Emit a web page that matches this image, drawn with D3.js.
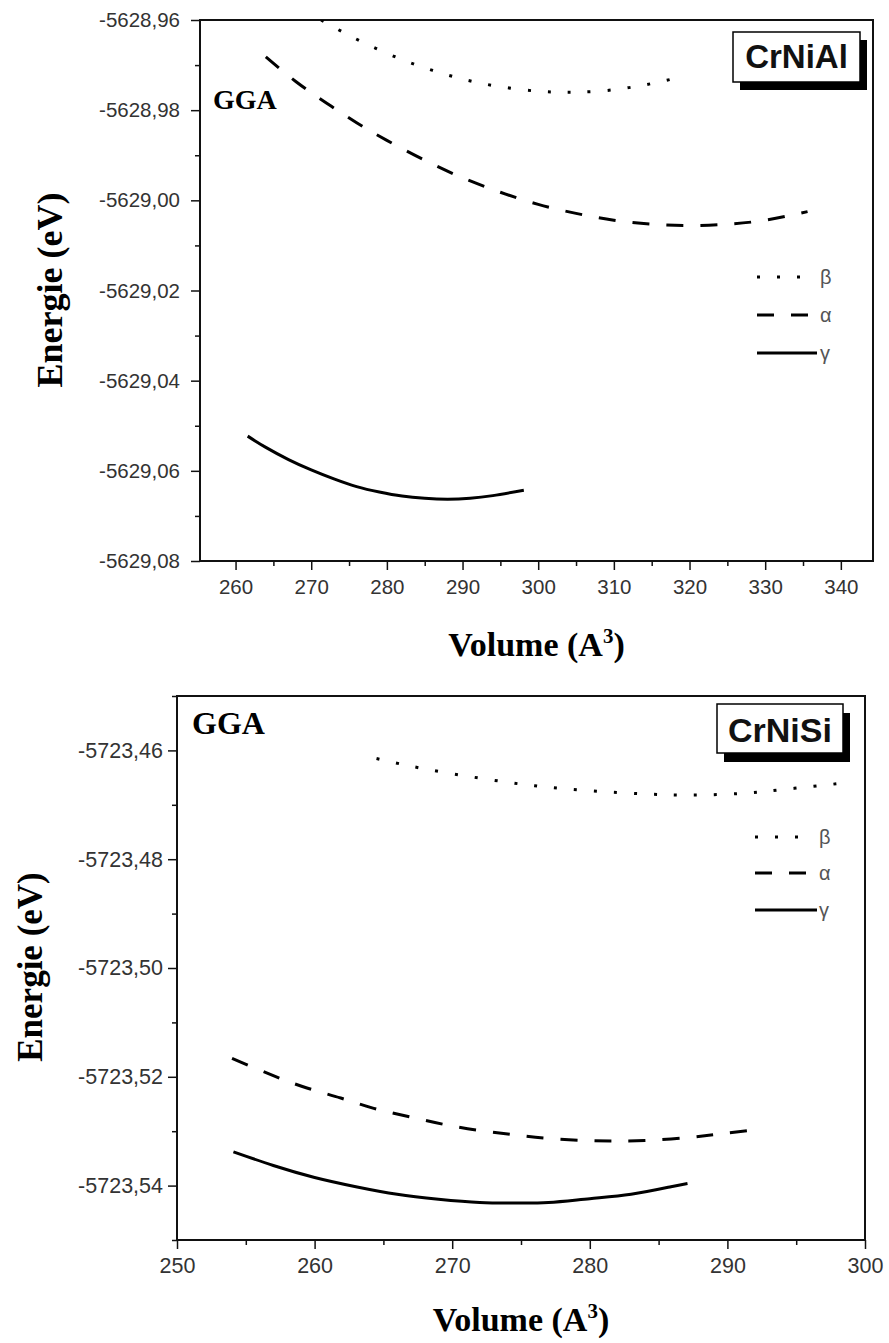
<!DOCTYPE html>
<html>
<head>
<meta charset="utf-8">
<script src="https://cdn.jsdelivr.net/npm/d3@7"></script>
<style>
  body { margin: 0; background: #fff; }
  svg { display: block; }
  .tick text { font-family: "Liberation Sans", Arial, sans-serif; fill: #333; }
  .title { font-family: "Liberation Serif", "Times New Roman", serif; font-weight: bold; fill: #000; }
  .legend { font-family: "Liberation Sans", Arial, sans-serif; fill: #555; }
  .box { font-family: "Liberation Sans", Arial, sans-serif; font-weight: bold; fill: #111; }
</style>
</head>
<body>
<svg id="chart" width="889" height="1343"></svg>
<script>
// ---- CrNiAl (top) ----
const alBetaV  = [271.3, 275, 280, 285, 290, 295, 300, 304, 308, 312, 315, 317.7];
const alBetaE  = [-5628.9600, -5628.9634, -5628.9674, -5628.9706, -5628.9731, -5628.9748,
                  -5628.9758, -5628.9760, -5628.9758, -5628.9750, -5628.9741, -5628.9731];
const alAlphaV = [264, 268, 272, 276, 280, 285, 290, 295, 300, 305, 310, 315, 320, 325, 330, 335.6];
const alAlphaE = [-5628.9682, -5628.9737, -5628.9784, -5628.9828, -5628.9867, -5628.9911,
                  -5628.9950, -5628.9982, -5629.0009, -5629.0029, -5629.0044, -5629.0053,
                  -5629.0056, -5629.0053, -5629.0044, -5629.0025];
const alGammaV = [261.6, 264, 267, 270, 273, 276, 279, 282, 285, 288, 291, 294, 298.1];
const alGammaE = [-5629.0523, -5629.0548, -5629.0575, -5629.0598, -5629.0618, -5629.0635,
                  -5629.0647, -5629.0656, -5629.0661, -5629.0663, -5629.0661, -5629.0655, -5629.0643];
const alXTicks = [260, 270, 280, 290, 300, 310, 320, 330, 340];
const alYTicks = [-5629.08, -5629.06, -5629.04, -5629.02, -5629.00, -5628.98, -5628.96];

// ---- CrNiSi (bottom) ----
const siBetaV  = [264.5, 268, 272, 276, 280, 284, 287.5, 291, 294, 297, 298.7];
const siBetaE  = [-5723.4615, -5723.4634, -5723.4651, -5723.4665, -5723.4674, -5723.4680,
                  -5723.4682, -5723.4679, -5723.4672, -5723.4664, -5723.4659];
const siAlphaV = [254.0, 257, 259.5, 261.9, 264.3, 266.8, 269.3, 271.8, 274.3, 276.8, 279.5,
                  281.5, 284, 287, 289.5, 292.2];
const siAlphaE = [-5723.5166, -5723.5198, -5723.5221, -5723.5239, -5723.5258, -5723.5273,
                  -5723.5287, -5723.5298, -5723.5306, -5723.5313, -5723.5317, -5723.5318,
                  -5723.5317, -5723.5312, -5723.5305, -5723.5297];
const siGammaV = [254.1, 257, 260, 263, 266, 269, 272, 274.5, 277, 280, 283, 285.9, 287.1];
const siGammaE = [-5723.5338, -5723.5363, -5723.5385, -5723.5402, -5723.5416, -5723.5425,
                  -5723.5431, -5723.5432, -5723.5431, -5723.5424, -5723.5416, -5723.5402, -5723.5396];
const siXTicks = [250, 260, 270, 280, 290, 300];
const siYTicks = [-5723.54, -5723.52, -5723.50, -5723.48, -5723.46];

const legendNames = ["β", "α", "γ"];
const phaseDash   = ["3,17", "17,17", null];   // β dotted, α dashed, γ solid

const svg = d3.select("#chart");
const fmt2 = d3.formatLocale({ decimal: ",", thousands: "", grouping: [3],
                               currency: ["", ""], minus: "-" }).format(".2f");

drawPanel({
  id: "al", name: "CrNiAl",
  left: 200, right: 873, top: 20, bottom: 561,
  xDomain: [255.3, 344.25], yDomain: [-5629.08, -5628.96],
  xTicks: alXTicks, yTicks: alYTicks, xMinorStep: 5, yMinorStep: 0.01,
  tickFont: 20.5, yPad: 11,
  series: [[alBetaV, alBetaE], [alAlphaV, alAlphaE], [alGammaV, alGammaE]],
  gga: { x: 213, y: 109, size: 28 },
  yTitle: { x: 62, y: 290, size: 36 },
  xTitle: { x: 536.5, y: 656, size: 34 },
  box: { x: 733, y: 32, w: 127, h: 50, dx: 7, dy: 8, size: 33, base: 68 },
  legend: { x0: 757, ends: [803, 808, 817], rows: [277, 315, 353], tx: 820 }
});

drawPanel({
  id: "si", name: "CrNiSi",
  left: 177, right: 865, top: 696, bottom: 1240,
  xDomain: [250, 300], yDomain: [-5723.55, -5723.45],
  xTicks: siXTicks, yTicks: siYTicks, xMinorStep: 5, yMinorStep: 0.01,
  tickFont: 21.5, yPad: 5,
  series: [[siBetaV, siBetaE], [siAlphaV, siAlphaE], [siGammaV, siGammaE]],
  gga: { x: 192, y: 734, size: 32 },
  yTitle: { x: 42, y: 967, size: 35 },
  xTitle: { x: 521, y: 1331, size: 34 },
  box: { x: 717, y: 704, w: 126, h: 49, dx: 7, dy: 9, size: 34, base: 742 },
  legend: { x0: 755, ends: [801, 808, 817], rows: [837, 873, 910], tx: 819 }
});

function drawPanel(c) {
  const x = d3.scaleLinear().domain(c.xDomain).range([c.left, c.right]);
  const y = d3.scaleLinear().domain(c.yDomain).range([c.bottom, c.top]);
  const g = svg.append("g");

  // minor ticks
  const xMinor = d3.range(Math.ceil(c.xDomain[0] / c.xMinorStep) * c.xMinorStep, c.xDomain[1] + 1e-9, c.xMinorStep)
    .filter(v => !c.xTicks.includes(v));
  const yMinor = d3.range(c.yDomain[0], c.yDomain[1] + 1e-9, c.yMinorStep)
    .filter(v => !c.yTicks.some(t => Math.abs(t - v) < 1e-6));

  g.append("g")
    .attr("transform", `translate(0,${c.bottom})`)
    .call(d3.axisBottom(x).tickValues(xMinor).tickSize(5).tickFormat(""))
    .call(a => a.select(".domain").remove())
    .selectAll("line").attr("stroke", "#111").attr("stroke-width", 1.5);
  g.append("g")
    .attr("transform", `translate(${c.left},0)`)
    .call(d3.axisLeft(y).tickValues(yMinor).tickSize(5).tickFormat(""))
    .call(a => a.select(".domain").remove())
    .selectAll("line").attr("stroke", "#111").attr("stroke-width", 1.5);

  // major ticks + labels
  const xa = g.append("g")
    .attr("transform", `translate(0,${c.bottom})`)
    .call(d3.axisBottom(x).tickValues(c.xTicks).tickSize(9).tickPadding(9).tickFormat(d3.format("d")))
    .call(a => a.select(".domain").remove());
  const ya = g.append("g")
    .attr("transform", `translate(${c.left},0)`)
    .call(d3.axisLeft(y).tickValues(c.yTicks).tickSize(9).tickPadding(c.yPad).tickFormat(fmt2))
    .call(a => a.select(".domain").remove());
  [xa, ya].forEach(a => {
    a.selectAll("line").attr("stroke", "#111").attr("stroke-width", 1.5);
    a.selectAll("text").style("font-size", c.tickFont + "px");
  });

  // frame
  g.append("rect")
    .attr("x", c.left).attr("y", c.top)
    .attr("width", c.right - c.left).attr("height", c.bottom - c.top)
    .attr("fill", "none").attr("stroke", "#111").attr("stroke-width", 2);

  // curves
  svg.append("clipPath").attr("id", "clip-" + c.id)
    .append("rect")
      .attr("x", c.left).attr("y", c.top)
      .attr("width", c.right - c.left).attr("height", c.bottom - c.top);

  const line = d3.line()
    .x(d => x(d[0]))
    .y(d => y(d[1]))
    .curve(d3.curveNatural);

  g.append("g")
    .attr("clip-path", `url(#clip-${c.id})`)
    .selectAll("path")
    .data(c.series.map(s => d3.zip(s[0], s[1])))
    .join("path")
      .attr("d", line)
      .attr("fill", "none")
      .attr("stroke", "#000")
      .attr("stroke-width", 3)
      .attr("stroke-dasharray", (d, i) => phaseDash[i]);

  // legend
  const lg = g.append("g");
  legendNames.forEach((name, i) => {
    lg.append("line")
      .attr("x1", c.legend.x0).attr("x2", c.legend.ends[i])
      .attr("y1", c.legend.rows[i]).attr("y2", c.legend.rows[i])
      .attr("stroke", "#000").attr("stroke-width", 3)
      .attr("stroke-dasharray", phaseDash[i]);
    lg.append("text")
      .attr("class", "legend")
      .attr("x", c.legend.tx).attr("y", c.legend.rows[i])
      .attr("dy", "0.35em")
      .style("font-size", "20px")
      .text(name);
  });

  // compound label box with shadow
  const b = c.box;
  g.append("rect")
    .attr("x", b.x + b.dx).attr("y", b.y + b.dy)
    .attr("width", b.w).attr("height", b.h)
    .attr("fill", "#000");
  g.append("rect")
    .attr("x", b.x).attr("y", b.y)
    .attr("width", b.w).attr("height", b.h)
    .attr("fill", "#fff").attr("stroke", "#000").attr("stroke-width", 1.5);
  g.append("text")
    .attr("class", "box")
    .attr("x", b.x + b.w / 2).attr("y", b.base)
    .attr("text-anchor", "middle")
    .style("font-size", b.size + "px")
    .text(c.name);

  // GGA
  g.append("text")
    .attr("class", "title")
    .attr("x", c.gga.x).attr("y", c.gga.y)
    .style("font-size", c.gga.size + "px")
    .text("GGA");

  // axis titles
  g.append("text")
    .attr("class", "title")
    .attr("transform", `translate(${c.yTitle.x},${c.yTitle.y}) rotate(-90)`)
    .attr("text-anchor", "middle")
    .style("font-size", c.yTitle.size + "px")
    .text("Energie (eV)");

  const xt = g.append("text")
    .attr("class", "title")
    .attr("x", c.xTitle.x).attr("y", c.xTitle.y)
    .attr("text-anchor", "middle")
    .style("font-size", c.xTitle.size + "px");
  xt.append("tspan").text("Volume (A");
  xt.append("tspan").attr("dy", -13).style("font-size", "21px").text("3");
  xt.append("tspan").attr("dy", 13).text(")");
}
</script>
</body>
</html>
